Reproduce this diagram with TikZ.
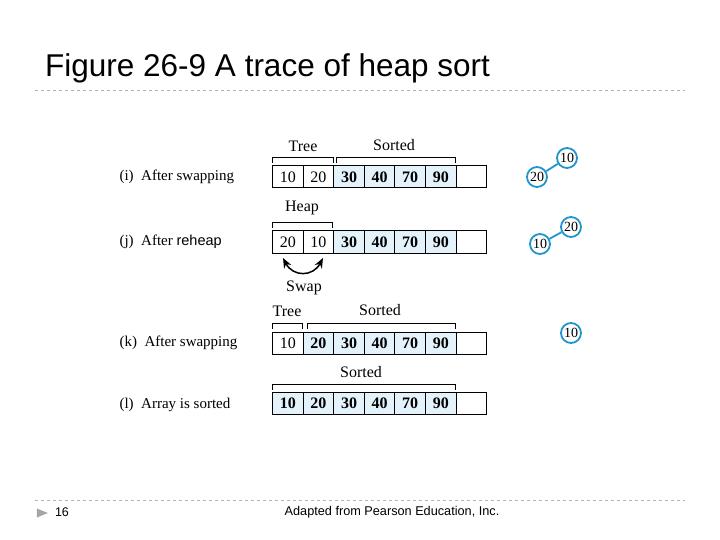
\documentclass[tikz,border=0pt]{standalone}
\usepackage{fontspec}
\setmainfont{Liberation Serif}
\newfontfamily\hsans{Liberation Sans}
\usetikzlibrary{arrows.meta,shapes.geometric}
\definecolor{cellblue}{RGB}{228,242,252}
\definecolor{ringblue}{RGB}{30,150,205}
\tikzset{
 cell/.style={draw,line width=1pt,minimum width=30.6pt,minimum height=22pt,inner sep=0pt,font=\fontsize{16}{16}\selectfont,anchor=west},
 srt/.style={fill=cellblue,font=\fontsize{16}{16}\selectfont\bfseries},
 brk/.style={draw,line width=0.7pt},
 blab/.style={font=\fontsize{16}{16}\selectfont},
 rowlab/.style={font=\fontsize{15}{15}\selectfont,anchor=west},
 ring/.style={circle,draw=ringblue,line width=1.8pt,minimum size=20pt,inner sep=0pt,font=\fontsize{14}{14}\selectfont},
 edge/.style={draw=ringblue,line width=1.8pt},
 rule/.style={draw=gray!60,dashed,line width=0.6pt}
}
\begin{document}
\begin{tikzpicture}[x=1pt,y=-1pt]
\useasboundingbox (0,0) rectangle (720,540);
\node[anchor=west,font=\hsans\fontsize{31.5}{31.5}\selectfont,inner sep=0pt] (title) at (45,68) {Figure 26-9 A trace of heap sort};
\coordinate (l1a) at (35,90); \coordinate (l1b) at (685,90);
\draw[rule] (l1a) -- (l1b);
\coordinate (l2a) at (35,500); \coordinate (l2b) at (685,500);
\draw[rule] (l2a) -- (l2b);
\node[fill=gray!70,isosceles triangle,minimum size=9pt,inner sep=0pt] (tri) at (40,513) {};
\node[font=\hsans\fontsize{12.5}{12.5}\selectfont] (pg) at (62,512) {16};
\node[font=\hsans\fontsize{12.7}{12.7}\selectfont] (foot) at (392,512) {Adapted from Pearson Education, Inc.};
% rows
\newcommand\mkrow[3]{% name, y, list of value/style
 \foreach \v/\s [count=\i from 0] in {#3}{
  \node[cell,\s] (#1c\i) at ({272+30.6*\i},#2) {\v};
 }
}
\mkrow{ri}{177}{10/,20/,30/srt,40/srt,70/srt,90/srt,{}/}
\mkrow{rj}{242}{20/,10/,30/srt,40/srt,70/srt,90/srt,{}/}
\mkrow{rk}{343}{10/,20/srt,30/srt,40/srt,70/srt,90/srt,{}/}
\mkrow{rl}{403}{10/srt,20/srt,30/srt,40/srt,70/srt,90/srt,{}/}
\node[rowlab] (li) at (116,177) {(i)\ \ After swapping};
\node[rowlab] (lj) at (116,242) {(j)\ \ After {\hsans\fontsize{14.5}{14.5}\selectfont reheap}};
\node[rowlab] (lk) at (116,343) {(k)\ \ After swapping};
\node[rowlab] (ll) at (116,405) {(l)\ \ Array is sorted};
% brackets
\draw[brk] (272,163) -- (272,157) -- (333,157) -- (333,163);
\draw[brk] (336,163) -- (336,157) -- (455,157) -- (455,163);
\node[blab] (bt1) at (303,146) {Tree};
\node[blab] (bs1) at (394,145) {Sorted};
\draw[brk] (272,228) -- (272,222) -- (332,222) -- (332,228);
\node[blab] (bh) at (302,208) {Heap};
\draw[brk] (272,329) -- (272,323) -- (302,323) -- (302,329);
\draw[brk] (307,329) -- (307,323) -- (455,323) -- (455,329);
\node[blab] (bt2) at (287,311) {Tree};
\node[blab] (bs2) at (380,310) {Sorted};
\draw[brk] (272,390) -- (272,384) -- (455,384) -- (455,390);
\node[blab] (bs3) at (361,372) {Sorted};
% swap
\coordinate (sw1) at (283,258); \coordinate (sw2) at (323,258);
\draw[line width=1.5pt,{Stealth[length=10pt,width=8pt]}-{Stealth[length=10pt,width=8pt]}] (sw1) .. controls (293,277) and (313,277) .. (sw2);
\node[blab] (swap) at (304,288) {Swap};
% trees
\node[ring] (ti10) at (567,158) {10};
\node[ring] (ti20) at (537,177) {20};
\draw[edge] (ti20) -- (ti10);
\node[ring] (tj20) at (571,227) {20};
\node[ring] (tj10) at (540,244) {10};
\draw[edge] (tj10) -- (tj20);
\node[ring] (tk10) at (571,333) {10};
\end{tikzpicture}
\end{document}
